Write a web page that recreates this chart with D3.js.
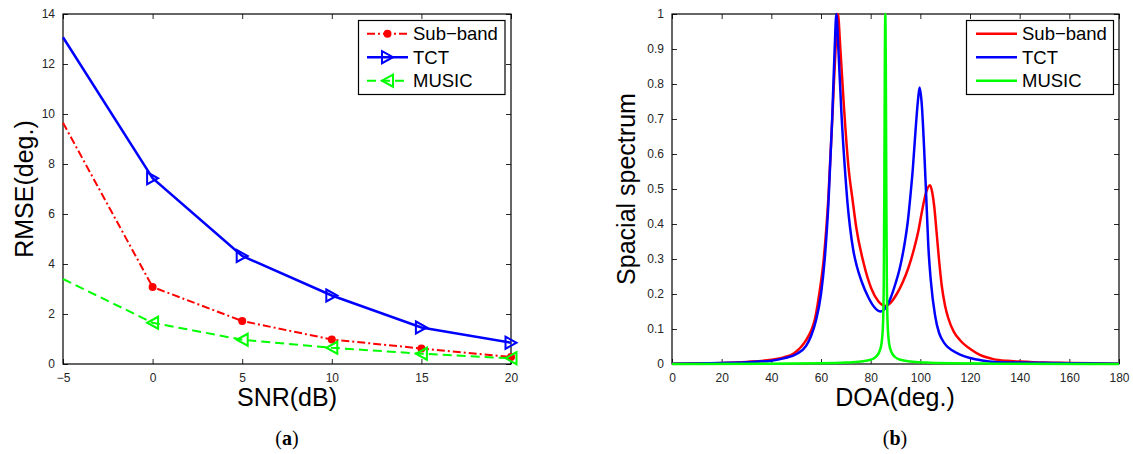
<!DOCTYPE html>
<meta charset="utf-8">
<style>
  body { margin: 0; background: #fff; }
  text { font-family: "Liberation Sans", Arial, sans-serif; fill: #000; }
  .tick-label { font-size: 12px; fill: #262626; }
  .axis-title { font-size: 25px; }
  .legend-text { font-size: 18.5px; }
  .caption { font-family: "Liberation Serif", "DejaVu Serif", serif; font-size: 20px; }
</style>
<body>
<script src="https://cdn.jsdelivr.net/npm/d3@7"></script>
<script>

// (a) RMSE vs SNR
var snr = [-5, 0, 5, 10, 15, 20];
var rmseSub = [9.65, 3.08, 1.72, 0.98, 0.62, 0.28];
var rmseTct = [13.07, 7.43, 4.32, 2.74, 1.46, 0.85];
var rmseMusic = [3.4, 1.65, 0.97, 0.65, 0.41, 0.23];
var snrTicks = [-5, 0, 5, 10, 15, 20];
var rmseTicks = [0, 2, 4, 6, 8, 10, 12, 14];

// (b) spatial spectrum
var subDoa = [0, 10, 20, 30, 40, 45, 49, 54, 56, 57.6, 59.5, 61.1, 63, 64.8, 66, 66.8, 67.8, 69.1, 71.1, 72.7, 74.2, 77.1, 80.3, 83, 85.8, 88, 90.5, 93, 95.2, 97.5, 99.2, 100.5, 102.3, 103.9, 104.8, 105.6, 106.5, 107.5, 108.6, 110, 111.3, 113.5, 116, 120.7, 124, 129.4, 135, 140, 150, 160, 180];
var subVal = [0.001, 0.002, 0.003, 0.006, 0.012, 0.019, 0.03, 0.068, 0.095, 0.13, 0.21, 0.3, 0.48, 0.74, 0.92, 1.0, 0.9, 0.75, 0.56, 0.47, 0.39, 0.29, 0.215, 0.18, 0.166, 0.175, 0.2, 0.235, 0.275, 0.33, 0.38, 0.43, 0.49, 0.511, 0.49, 0.45, 0.38, 0.3, 0.225, 0.165, 0.13, 0.092, 0.068, 0.04, 0.026, 0.014, 0.009, 0.007, 0.004, 0.003, 0.001];
var tctDoa = [0, 10, 20, 30, 40, 45, 50, 54, 56, 58, 60, 61.5, 63, 64.5, 65.5, 66.2, 67, 68.2, 69.8, 70.8, 71.7, 73, 74.4, 76.4, 79.1, 81.5, 83.8, 86, 88.1, 90, 91.6, 93.8, 95, 96, 97, 98, 99, 99.7, 100.6, 101.5, 102.6, 103.2, 104.2, 105.9, 107.5, 108.6, 110.5, 112.6, 116, 120, 125, 130, 140, 160, 180];
var tctVal = [0.001, 0.0015, 0.003, 0.005, 0.0095, 0.016, 0.028, 0.052, 0.08, 0.125, 0.2, 0.3, 0.46, 0.7, 0.9, 1.0, 0.9, 0.72, 0.54, 0.45, 0.39, 0.325, 0.28, 0.235, 0.19, 0.162, 0.15, 0.16, 0.19, 0.23, 0.27, 0.35, 0.41, 0.48, 0.56, 0.66, 0.75, 0.79, 0.74, 0.62, 0.44, 0.34, 0.24, 0.14, 0.09, 0.072, 0.052, 0.04, 0.027, 0.017, 0.01, 0.006, 0.004, 0.002, 0.001];
var musicDoa = [0, 40, 60, 70, 76, 80, 82, 83.5, 84.4, 85, 85.3, 85.5, 85.7, 85.9, 86.1, 86.3, 86.5, 86.8, 87.4, 88.3, 89.8, 92, 96, 102, 112, 130, 180];
var musicVal = [0, 0.001, 0.002, 0.004, 0.007, 0.012, 0.02, 0.035, 0.06, 0.12, 0.25, 0.5, 0.85, 1.0, 0.85, 0.5, 0.25, 0.12, 0.06, 0.035, 0.02, 0.012, 0.007, 0.004, 0.002, 0.001, 0];
var doaTicks = [0, 20, 40, 60, 80, 100, 120, 140, 160, 180];
var specTicks = [0, 0.1, 0.2, 0.3, 0.4, 0.5, 0.6, 0.7, 0.8, 0.9, 1];

var names = ["Sub\u2212band", "TCT", "MUSIC"];
var colors = ["#ff0000", "#0000ff", "#00ff00"];

var svg = d3.select("body").append("svg")
    .attr("width", 1133)
    .attr("height", 454);

function frame(x, y, xTicks, yTicks, yFmt) {
  var g = svg.append("g");
  var x0 = x.range()[0], x1 = x.range()[1], y0 = y.range()[0], y1 = y.range()[1];
  var tl = 5;

  // inward ticks on all four sides
  g.append("g").attr("transform", "translate(0," + y0 + ")")
      .call(d3.axisBottom(x).tickValues(xTicks).tickSizeInner(-tl).tickSizeOuter(0).tickPadding(9).tickFormat(d3.format("")));
  g.append("g").attr("transform", "translate(0," + y1 + ")")
      .call(d3.axisTop(x).tickValues(xTicks).tickSizeInner(-tl).tickSizeOuter(0).tickFormat(""));
  g.append("g").attr("transform", "translate(" + x0 + ",0)")
      .call(d3.axisLeft(y).tickValues(yTicks).tickSizeInner(-tl).tickSizeOuter(0).tickPadding(8).tickFormat(yFmt));
  g.append("g").attr("transform", "translate(" + x1 + ",0)")
      .call(d3.axisRight(y).tickValues(yTicks).tickSizeInner(-tl).tickSizeOuter(0).tickFormat(""));

  g.selectAll(".domain").remove();
  g.selectAll(".tick line").attr("stroke", "#262626");
  g.selectAll(".tick text").attr("class", "tick-label").attr("font-size", null).attr("font-family", null);

  g.append("rect")
      .attr("x", x0).attr("y", y1)
      .attr("width", x1 - x0).attr("height", y0 - y1)
      .attr("fill", "none").attr("stroke", "#000").attr("stroke-width", 1.2);
  return g;
}

function triangle(dir, cx, cy) {
  var h = 6, w = 5.5;
  if (dir > 0) return "M" + (cx - w) + "," + (cy - h) + "L" + (cx + w) + "," + cy + "L" + (cx - w) + "," + (cy + h) + "Z";
  return "M" + (cx + w) + "," + (cy - h) + "L" + (cx - w) + "," + cy + "L" + (cx + w) + "," + (cy + h) + "Z";
}

// ---------- panel (a) ----------
var xa = d3.scaleLinear().domain([-5, 20]).range([63, 511]);
var ya = d3.scaleLinear().domain([0, 14]).range([364, 14]);

frame(xa, ya, snrTicks, rmseTicks, d3.format(""));

var lineA = d3.line()
    .x(function(d) { return xa(d[0]); })
    .y(function(d) { return ya(d[1]); });

var seriesA = [rmseSub, rmseTct, rmseMusic];
var dashA = ["8,3,2,3", null, "9,5"];
var widthA = [2, 2.5, 2];

seriesA.forEach(function(vals, i) {
  var pts = snr.map(function(s, j) { return [s, vals[j]]; });
  svg.append("path")
      .datum(pts)
      .attr("d", lineA)
      .attr("fill", "none")
      .attr("stroke", colors[i])
      .attr("stroke-width", widthA[i])
      .attr("stroke-dasharray", dashA[i]);

  var mk = svg.append("g").selectAll("path")
      .data(pts.slice(1))
    .enter();
  if (i === 0) {
    mk.append("circle")
        .attr("cx", function(d) { return xa(d[0]); })
        .attr("cy", function(d) { return ya(d[1]); })
        .attr("r", 4)
        .attr("fill", colors[i]);
  } else {
    mk.append("path")
        .attr("d", function(d) { return triangle(i === 1 ? 1 : -1, xa(d[0]), ya(d[1])); })
        .attr("fill", "none")
        .attr("stroke", colors[i])
        .attr("stroke-width", 2);
  }
});

svg.append("text").attr("class", "axis-title")
    .attr("x", 287).attr("y", 406)
    .attr("text-anchor", "middle")
    .text("SNR(dB)");
svg.append("text").attr("class", "axis-title")
    .attr("transform", "translate(33,189) rotate(-90)")
    .attr("text-anchor", "middle")
    .text("RMSE(deg.)");

var capA = svg.append("text").attr("class", "caption")
    .attr("x", 287).attr("y", 445).attr("text-anchor", "middle");
capA.append("tspan").text("(");
capA.append("tspan").attr("font-weight", "bold").text("a");
capA.append("tspan").text(")");

// legend (a)
var legA = svg.append("g");
legA.append("rect")
    .attr("x", 358.5).attr("y", 20.5).attr("width", 146.5).attr("height", 74)
    .attr("fill", "#fff").attr("stroke", "#000").attr("stroke-width", 1.2);
names.forEach(function(n, i) {
  var cy = 33.7 + i * 23.5;
  legA.append("line")
      .attr("x1", 367).attr("x2", 408).attr("y1", cy).attr("y2", cy)
      .attr("stroke", colors[i]).attr("stroke-width", widthA[i])
      .attr("stroke-dasharray", dashA[i]);
  if (i === 0) {
    legA.append("circle").attr("cx", 387.5).attr("cy", cy).attr("r", 4).attr("fill", colors[i]);
  } else {
    legA.append("path").attr("d", triangle(i === 1 ? 1 : -1, 387.5, cy))
        .attr("fill", "none").attr("stroke", colors[i]).attr("stroke-width", 2);
  }
  legA.append("text").attr("class", "legend-text")
      .attr("x", 413).attr("y", cy + 6.5)
      .text(n);
});

// ---------- panel (b) ----------
var xb = d3.scaleLinear().domain([0, 180]).range([672, 1119]);
var yb = d3.scaleLinear().domain([0, 1]).range([364, 14]);

frame(xb, yb, doaTicks, specTicks, function(d) { return d === 0 || d === 1 ? d : d.toFixed(1); });

var lineB = d3.line()
    .x(function(d) { return xb(d[0]); })
    .y(function(d) { return yb(d[1]); })
    .curve(d3.curveMonotoneX);

var seriesB = [[subDoa, subVal], [tctDoa, tctVal], [musicDoa, musicVal]];
seriesB.forEach(function(s, i) {
  var pts = s[0].map(function(d, j) { return [d, s[1][j]]; });
  svg.append("path")
      .datum(pts)
      .attr("d", lineB)
      .attr("fill", "none")
      .attr("stroke", colors[i])
      .attr("stroke-width", 2.5)
      .attr("stroke-linejoin", "round");
});

svg.append("text").attr("class", "axis-title")
    .attr("x", 895).attr("y", 406)
    .attr("text-anchor", "middle")
    .text("DOA(deg.)");
svg.append("text").attr("class", "axis-title")
    .attr("transform", "translate(635,189) rotate(-90)")
    .attr("text-anchor", "middle")
    .text("Spacial spectrum");

var capB = svg.append("text").attr("class", "caption")
    .attr("x", 895).attr("y", 445).attr("text-anchor", "middle");
capB.append("tspan").text("(");
capB.append("tspan").attr("font-weight", "bold").text("b");
capB.append("tspan").text(")");

// legend (b)
var legB = svg.append("g");
legB.append("rect")
    .attr("x", 966.5).attr("y", 20.5).attr("width", 147).attr("height", 74)
    .attr("fill", "#fff").attr("stroke", "#000").attr("stroke-width", 1.2);
names.forEach(function(n, i) {
  var cy = 33.7 + i * 23.5;
  legB.append("line")
      .attr("x1", 976).attr("x2", 1017).attr("y1", cy).attr("y2", cy)
      .attr("stroke", colors[i]).attr("stroke-width", 2.5);
  legB.append("text").attr("class", "legend-text")
      .attr("x", 1022).attr("y", cy + 6.5)
      .text(n);
});

</script>
